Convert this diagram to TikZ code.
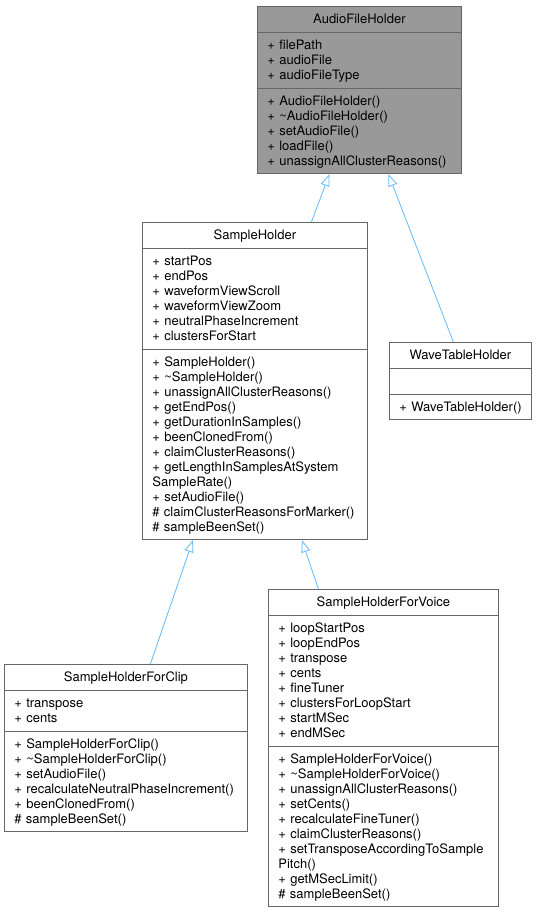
\documentclass[tikz,border=0pt]{standalone}
\usepackage{fontspec}
\setmainfont{TeX Gyre Heros}
\usetikzlibrary{shapes.multipart, arrows.meta}
\definecolor{boxline}{HTML}{666666}
\definecolor{boxfill}{HTML}{999999}
\definecolor{edgeblue}{HTML}{63B8FF}
\newcommand\lstrut{\rule[-3pt]{0pt}{15pt}}

\begin{document}
\begin{tikzpicture}[x=1pt, y=-1pt, line width=0.8pt,
    cls/.style = {draw=boxline, fill=white, rectangle split, rectangle split parts=3,
        text width=#1, align=left, inner xsep=10pt, inner ysep=5pt, anchor=north west,
        font=\fontsize{13}{15}\selectfont},
    inh/.style = {draw=edgeblue, -{Triangle[open, length=12pt, width=9pt]}}]
    \useasboundingbox (0,0) rectangle (540,912);

    \node[cls=184pt, fill=boxfill] (afh) at (257,6) {\lstrut\hfill AudioFileHolder\hfill\null
        \nodepart{two}\lstrut+~filePath\\+~audioFile\\+~audioFileType\lstrut
        \nodepart{three}\lstrut+~AudioFileHolder()\\+~\textasciitilde AudioFileHolder()\\+~setAudioFile()\\+~loadFile()\\+~unassignAllClusterReasons()\lstrut};
    \node[cls=205pt] (sh) at (142,222) {\lstrut\hfill SampleHolder\hfill\null
        \nodepart{two}\lstrut+~startPos\\+~endPos\\+~waveformViewScroll\\+~waveformViewZoom\\+~neutralPhaseIncrement\\+~clustersForStart\lstrut
        \nodepart{three}\lstrut+~SampleHolder()\\+~\textasciitilde SampleHolder()\\+~unassignAllClusterReasons()\\+~getEndPos()\\+~getDurationInSamples()\\+~beenClonedFrom()\\+~claimClusterReasons()\\+~getLengthInSamplesAtSystem\\SampleRate()\\+~setAudioFile()\\\#~claimClusterReasonsForMarker()\\\#~sampleBeenSet()\lstrut};
    \node[cls=122pt] (wth) at (389,342) {\lstrut\hfill WaveTableHolder\hfill\null
        \nodepart{two}\lstrut
        \nodepart{three}\lstrut+~WaveTableHolder()\lstrut};
    \node[cls=223pt] (shc) at (4,664) {\lstrut\hfill SampleHolderForClip\hfill\null
        \nodepart{two}\lstrut+~transpose\\+~cents\lstrut
        \nodepart{three}\lstrut+~SampleHolderForClip()\\+~\textasciitilde SampleHolderForClip()\\+~setAudioFile()\\+~recalculateNeutralPhaseIncrement()\\+~beenClonedFrom()\\\#~sampleBeenSet()\lstrut};
    \node[cls=210pt] (shv) at (268,589) {\lstrut\hfill SampleHolderForVoice\hfill\null
        \nodepart{two}\lstrut+~loopStartPos\\+~loopEndPos\\+~transpose\\+~cents\\+~fineTuner\\+~clustersForLoopStart\\+~startMSec\\+~endMSec\lstrut
        \nodepart{three}\lstrut+~SampleHolderForVoice()\\+~\textasciitilde SampleHolderForVoice()\\+~unassignAllClusterReasons()\\+~setCents()\\+~recalculateFineTuner()\\+~claimClusterReasons()\\+~setTransposeAccordingToSample\\Pitch()\\+~getMSecLimit()\\\#~sampleBeenSet()\lstrut};

    \draw[inh] ([xshift=56.5pt]sh.north) -- ([xshift=-30pt]afh.south);
    \draw[inh] ([xshift=-7pt]wth.north) -- ([xshift=29pt]afh.south);
    \draw[inh] ([xshift=24.5pt]shc.north) -- ([xshift=-62pt]sh.south);
    \draw[inh] ([xshift=-65pt]shv.north) -- ([xshift=47pt]sh.south);
\end{tikzpicture}
\end{document}
